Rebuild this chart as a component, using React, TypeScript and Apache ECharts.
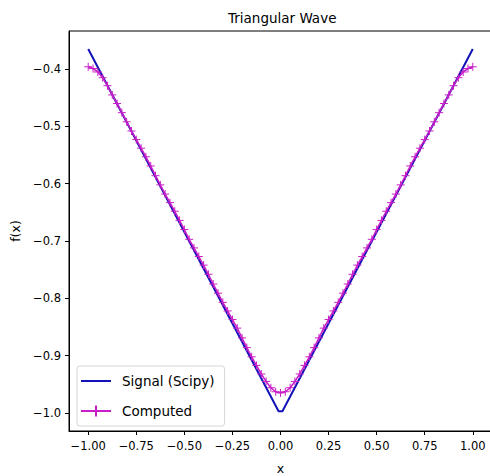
import React, { useEffect, useRef } from "react";
import * as echarts from "echarts";

// Signal (Scipy): triangular wave corners
const signalX = [-1.0, -0.01, 0.01, 1.0];
const signalY = [-0.365, -0.997, -0.997, -0.365];

// Computed (Fourier approximation)
const computedX = [
  -1.0, -0.975, -0.95, -0.925, -0.9, -0.875, -0.85, -0.825, -0.8, -0.775,
  -0.75, -0.725, -0.7, -0.675, -0.65, -0.625, -0.6, -0.575, -0.55, -0.525,
  -0.5, -0.475, -0.45, -0.425, -0.4, -0.375, -0.35, -0.325, -0.3, -0.275,
  -0.25, -0.225, -0.2, -0.175, -0.15, -0.125, -0.1, -0.075, -0.05, -0.025,
  0.0, 0.025, 0.05, 0.075, 0.1, 0.125, 0.15, 0.175, 0.2, 0.225,
  0.25, 0.275, 0.3, 0.325, 0.35, 0.375, 0.4, 0.425, 0.45, 0.475,
  0.5, 0.525, 0.55, 0.575, 0.6, 0.625, 0.65, 0.675, 0.7, 0.725,
  0.75, 0.775, 0.8, 0.825, 0.85, 0.875, 0.9, 0.925, 0.95, 0.975, 1.0,
];
const computedY = [
  -0.396, -0.399, -0.405, -0.415, -0.429, -0.445, -0.46, -0.476, -0.492, -0.508,
  -0.523, -0.538, -0.553, -0.569, -0.586, -0.602, -0.618, -0.633, -0.648, -0.664,
  -0.68, -0.697, -0.712, -0.727, -0.742, -0.758, -0.775, -0.791, -0.807, -0.822,
  -0.837, -0.852, -0.869, -0.886, -0.902, -0.917, -0.932, -0.945, -0.956, -0.963,
  -0.965, -0.963, -0.956, -0.945, -0.932, -0.917, -0.902, -0.886, -0.869, -0.852,
  -0.837, -0.822, -0.807, -0.791, -0.775, -0.758, -0.742, -0.727, -0.712, -0.697,
  -0.68, -0.664, -0.648, -0.633, -0.618, -0.602, -0.586, -0.569, -0.553, -0.538,
  -0.523, -0.508, -0.492, -0.476, -0.46, -0.445, -0.429, -0.415, -0.405, -0.399, -0.396,
];

const xTicks = [-1.0, -0.75, -0.5, -0.25, 0.0, 0.25, 0.5, 0.75, 1.0];
const yTicks = [-1.0, -0.9, -0.8, -0.7, -0.6, -0.5, -0.4];

const FONT = "DejaVu Sans";
const BLUE = "#1212b8";
const MAGENTA = "#c81ec8";

const fmt = (v: number, d: number) => v.toFixed(d).replace("-", "\u2212");

export default function App() {
  const ref = useRef<HTMLDivElement>(null);
  useEffect(() => {
    if (!ref.current) return;
    const chart = echarts.init(ref.current, undefined, { renderer: "svg" });
    chart.setOption({
      animation: false,
      backgroundColor: "#ffffff",
      title: {
        text: "Triangular Wave",
        left: 223,
        top: 6,
        textStyle: { fontFamily: FONT, fontSize: 13.5, fontWeight: "normal", color: "#000" },
      },
      grid: {
        left: 69,
        top: 31,
        width: 423,
        height: 400,
        outerBoundsMode: "none",
        containLabel: false,
        show: true,
        borderColor: "#000",
        borderWidth: 1,
        backgroundColor: "transparent",
      },
      legend: {
        orient: "vertical",
        left: 77,
        top: 366,
        padding: [8, 10, 8, 3],
        itemWidth: 30,
        itemHeight: 14,
        itemGap: 16,
        backgroundColor: "#fff",
        borderColor: "#d6d6d6",
        borderWidth: 1,
        borderRadius: 3,
        textStyle: { fontFamily: FONT, fontSize: 13.5, color: "#000", padding: [0, 0, 0, 6] },
        data: ["Signal (Scipy)", "Computed"],
      },
      xAxis: {
        type: "value",
        min: -1.1,
        max: 1.1,
        name: "x",
        nameLocation: "middle",
        nameGap: 31,
        nameTextStyle: { fontFamily: FONT, fontSize: 12.5, color: "#000" },
        splitLine: { show: false },
        axisLine: { show: true, onZero: false, lineStyle: { color: "#000", width: 1 } },
        axisTick: { show: true, inside: false, length: 4, customValues: xTicks, lineStyle: { color: "#000" } },
        axisLabel: {
          customValues: xTicks,
          margin: 9,
          fontFamily: FONT,
          fontSize: 11.5,
          color: "#000",
          formatter: (v: number) => fmt(v, 2),
        },
      },
      yAxis: {
        type: "value",
        min: -1.0315,
        max: -0.3335,
        name: "f(x)",
        nameLocation: "middle",
        nameRotate: 90,
        nameGap: 40,
        nameTextStyle: { fontFamily: FONT, fontSize: 12.5, color: "#000" },
        splitLine: { show: false },
        axisLine: { show: true, onZero: false, lineStyle: { color: "#000", width: 1 } },
        axisTick: { show: true, inside: false, length: 4, customValues: yTicks, lineStyle: { color: "#000" } },
        axisLabel: {
          customValues: yTicks,
          margin: 8,
          fontFamily: FONT,
          fontSize: 11.5,
          color: "#000",
          formatter: (v: number) => fmt(v, 1),
        },
      },
      series: [
        {
          name: "Signal (Scipy)",
          type: "line",
          symbol: "path://M0,0L10,10",
          showSymbol: false,
          data: signalX.map((x, i) => [x, signalY[i]]),
          lineStyle: { color: BLUE, width: 2 },
          itemStyle: { color: BLUE, borderWidth: 0 },
          z: 2,
        },
        {
          name: "Computed",
          type: "line",
          symbol: "path://M0,5L10,5M5,0L5,10",
          symbolSize: 8,
          showAllSymbol: true,
          data: computedX.map((x, i) => [x, computedY[i]]),
          lineStyle: { color: MAGENTA, width: 1.5 },
          itemStyle: { color: MAGENTA, borderColor: MAGENTA, borderWidth: 1 },
          z: 3,
        },
      ],
    });
    return () => chart.dispose();
  }, []);
  return (
    <div
      ref={ref}
      style={{ position: "fixed", left: 0, top: 0, width: 490, height: 476 }}
    />
  );
}
